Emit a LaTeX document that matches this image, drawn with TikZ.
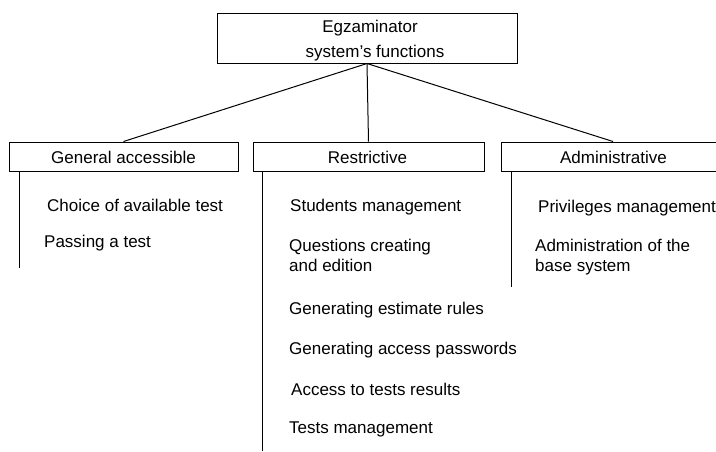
\documentclass[tikz,border=0pt]{standalone}
\usepackage{fontspec}
\setmainfont{Liberation Sans}
\begin{document}
\begin{tikzpicture}[x=1pt,y=-1pt,
  box/.style={draw,line width=1pt,rectangle,inner sep=0pt},
  lbl/.style={anchor=west,inner sep=0pt,font=\fontsize{17}{20}\selectfont,align=left},
  ttl/.style={inner sep=0pt,font=\fontsize{17}{20}\selectfont},
  ln/.style={line width=1pt}]
\useasboundingbox (0,0) rectangle (716,451);
\clip (0,0) rectangle (716,451);
% top box
\node[box,minimum width=300pt,minimum height=50pt] (top) at (367,38) {};
\node[ttl] (t1) at (370,28) {Egzaminator};
\node[ttl] (t2) at (375,53) {system’s functions};
% category boxes
\node[box,minimum width=229pt,minimum height=29pt] (ga) at (123.5,156.5) {};
\node[ttl] (gat) at (123.5,157) {General accessible};
\node[box,minimum width=231pt,minimum height=29pt] (re) at (368.5,156.5) {};
\node[ttl] (ret) at (367.5,157) {Restrictive};
\node[box,minimum width=224pt,minimum height=29pt] (ad) at (613,156.5) {};
\node[ttl] (adt) at (613.5,157) {Administrative};
% connectors
\draw[ln] (top.south) -- (ga.north);
\draw[ln] (top.south) -- (re.north);
\draw[ln] (top.south) -- (ad.north);
% vertical lines
\coordinate (gaend) at (19,268);
\coordinate (reend) at (262,451);
\coordinate (adend) at (511,287);
\draw[ln] (ga.south west -| gaend) -- (gaend);
\draw[ln] (re.south west -| reend) -- (reend);
\draw[ln] (ad.south west -| adend) -- (adend);
% items
\node[lbl] (g1) at (47,205) {Choice of available test};
\node[lbl] (g2) at (44,243) {Passing a test};
\node[lbl] (r1) at (290,207) {Students management};
\node[lbl] (r2) at (289,255) {Questions creating\\and edition};
\node[lbl] (r3) at (289,310) {Generating estimate rules};
\node[lbl] (r4) at (289,350) {Generating access passwords};
\node[lbl] (r5) at (291,389) {Access to tests results};
\node[lbl] (r6) at (289,429) {Tests management};
\node[lbl] (a1) at (538,208) {Privileges management};
\node[lbl] (a2) at (535,257) {Administration of the\\base system};
\end{tikzpicture}
\end{document}
